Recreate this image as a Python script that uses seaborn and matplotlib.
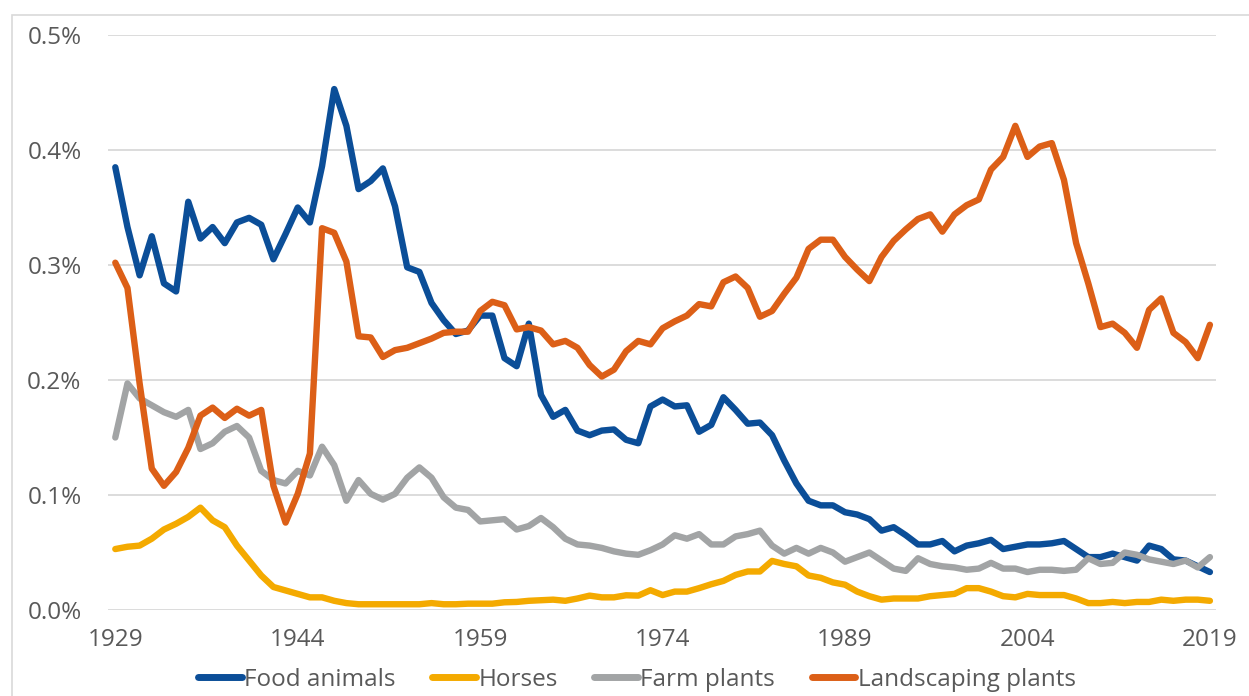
import pandas as pd
import matplotlib.pyplot as plt
import matplotlib.patches as patches
import seaborn as sns
import numpy as np

# years on the x axis
years = list(range(1929, 2020))

food_animals = [
    0.385, 0.333, 0.291, 0.325, 0.284, 0.277, 0.355, 0.323, 0.333, 0.319,
    0.337, 0.341, 0.335, 0.305, 0.327, 0.350, 0.337, 0.386, 0.453, 0.421,
    0.366, 0.373, 0.384, 0.351, 0.298, 0.294, 0.267, 0.252, 0.240, 0.243,
    0.256, 0.256, 0.219, 0.212, 0.249, 0.187, 0.168, 0.174, 0.156, 0.152,
    0.156, 0.157, 0.148, 0.145, 0.177, 0.183, 0.177, 0.178, 0.155, 0.161,
    0.185, 0.174, 0.162, 0.163, 0.152, 0.130, 0.110, 0.095, 0.091, 0.091,
    0.085, 0.083, 0.079, 0.069, 0.072, 0.065, 0.057, 0.057, 0.060, 0.051,
    0.056, 0.058, 0.061, 0.053, 0.055, 0.057, 0.057, 0.058, 0.060, 0.053,
    0.046, 0.046, 0.049, 0.046, 0.043, 0.056, 0.053, 0.044, 0.043, 0.038,
    0.033]

horses = [
    0.053, 0.055, 0.056, 0.062, 0.070, 0.075, 0.081, 0.089, 0.078, 0.072,
    0.056, 0.043, 0.030, 0.020, 0.017, 0.014, 0.011, 0.011, 0.008, 0.006,
    0.005, 0.005, 0.005, 0.005, 0.005, 0.005, 0.006, 0.005, 0.005, 0.0055,
    0.0055, 0.0055, 0.0067, 0.007, 0.008, 0.0085, 0.009, 0.008, 0.010, 0.0125,
    0.011, 0.011, 0.0128, 0.0125, 0.0172, 0.013, 0.016, 0.016, 0.019, 0.0224,
    0.0253, 0.0305, 0.0335, 0.0335, 0.0427, 0.040, 0.038, 0.030, 0.028, 0.024,
    0.022, 0.016, 0.012, 0.009, 0.010, 0.010, 0.010, 0.012, 0.013, 0.014,
    0.019, 0.019, 0.016, 0.012, 0.011, 0.014, 0.013, 0.013, 0.013, 0.010,
    0.006, 0.006, 0.007, 0.006, 0.007, 0.007, 0.009, 0.008, 0.009, 0.009,
    0.008]

farm_plants = [
    0.150, 0.197, 0.184, 0.178, 0.172, 0.168, 0.174, 0.140, 0.145, 0.155,
    0.160, 0.150, 0.121, 0.113, 0.110, 0.121, 0.117, 0.142, 0.126, 0.095,
    0.113, 0.101, 0.096, 0.101, 0.115, 0.124, 0.115, 0.098, 0.089, 0.087,
    0.077, 0.078, 0.079, 0.070, 0.073, 0.080, 0.072, 0.062, 0.057, 0.056,
    0.054, 0.051, 0.049, 0.048, 0.052, 0.057, 0.065, 0.062, 0.066, 0.057,
    0.057, 0.064, 0.066, 0.069, 0.056, 0.049, 0.054, 0.049, 0.054, 0.050,
    0.042, 0.046, 0.050, 0.043, 0.036, 0.034, 0.045, 0.040, 0.038, 0.037,
    0.035, 0.036, 0.041, 0.036, 0.036, 0.033, 0.035, 0.035, 0.034, 0.035,
    0.045, 0.040, 0.041, 0.050, 0.048, 0.044, 0.042, 0.040, 0.043, 0.037,
    0.046]

landscaping_plants = [
    0.302, 0.280, 0.197, 0.123, 0.108, 0.120, 0.141, 0.169, 0.176, 0.167,
    0.175, 0.169, 0.174, 0.108, 0.076, 0.101, 0.136, 0.332, 0.328, 0.303,
    0.238, 0.237, 0.220, 0.226, 0.228, 0.232, 0.236, 0.241, 0.242, 0.242,
    0.260, 0.268, 0.265, 0.244, 0.246, 0.243, 0.231, 0.234, 0.228, 0.213,
    0.203, 0.209, 0.225, 0.234, 0.231, 0.245, 0.251, 0.256, 0.266, 0.264,
    0.285, 0.290, 0.280, 0.255, 0.260, 0.275, 0.289, 0.314, 0.322, 0.322,
    0.307, 0.296, 0.286, 0.307, 0.321, 0.331, 0.340, 0.344, 0.329, 0.344,
    0.352, 0.357, 0.383, 0.394, 0.421, 0.394, 0.403, 0.406, 0.374, 0.319,
    0.284, 0.246, 0.249, 0.241, 0.228, 0.261, 0.271, 0.241, 0.233, 0.219,
    0.248]

series_names = ['Food animals', 'Horses', 'Farm plants', 'Landscaping plants']
colors = ['#0B4E98', '#F4AA00', '#A2A4A5', '#DC5F17']
x_ticks = [1929, 1944, 1959, 1974, 1989, 2004, 2019]
y_ticks = [0.0, 0.1, 0.2, 0.3, 0.4, 0.5]

# long format table for seaborn
df = pd.DataFrame({
    'Year': years * 4,
    'Share': food_animals + horses + farm_plants + landscaping_plants,
    'Series': sum([[name] * len(years) for name in series_names], []),
})

sns.set_theme(style='white')
plt.rcParams['font.family'] = ['Open Sans', 'DejaVu Sans']

fig = plt.figure(figsize=(12.49, 6.96), dpi=100)
ax = fig.add_axes([108 / 1249, 1 - 610 / 696, (1216 - 108) / 1249, (610 - 35) / 696])

sns.lineplot(data=df, x='Year', y='Share', hue='Series', hue_order=series_names,
             palette=colors, linewidth=4.6, ax=ax, legend=False)

ax.set_xlim(1928.4, 2019.5)
ax.set_ylim(0, 0.5)
ax.set_xticks(x_ticks)
ax.set_yticks(y_ticks)
ax.set_yticklabels([f'{v:.1f}%' for v in y_ticks])
ax.tick_params(axis='both', length=0, labelsize=17.5, labelcolor='#595959')
ax.tick_params(axis='x', pad=13)
ax.tick_params(axis='y', pad=19)
ax.set_xlabel('')
ax.set_ylabel('')
ax.grid(axis='y', color='#D9D9D9', linewidth=1.3)
ax.set_axisbelow(True)
for s in ax.spines.values():
    s.set_visible(False)

# legend below the chart
handles = [plt.Line2D([0], [0], color=c, linewidth=5, solid_capstyle='round') for c in colors]
fig.legend(handles, series_names, loc='center', bbox_to_anchor=(0.51, 1 - 680 / 696),
           ncol=4, frameon=False, fontsize=17.5, labelcolor='#595959',
           handlelength=1.8, handletextpad=0.1, columnspacing=1.5)

# light chart border, cut off at right and bottom
fig.patches.append(patches.Rectangle((12 / 1249, -0.1), 1.2, 1.1 - 15 / 696,
                                     transform=fig.transFigure, fill=False,
                                     edgecolor='#D9D9D9', linewidth=1.2))

plt.savefig('out.png', dpi=100)
